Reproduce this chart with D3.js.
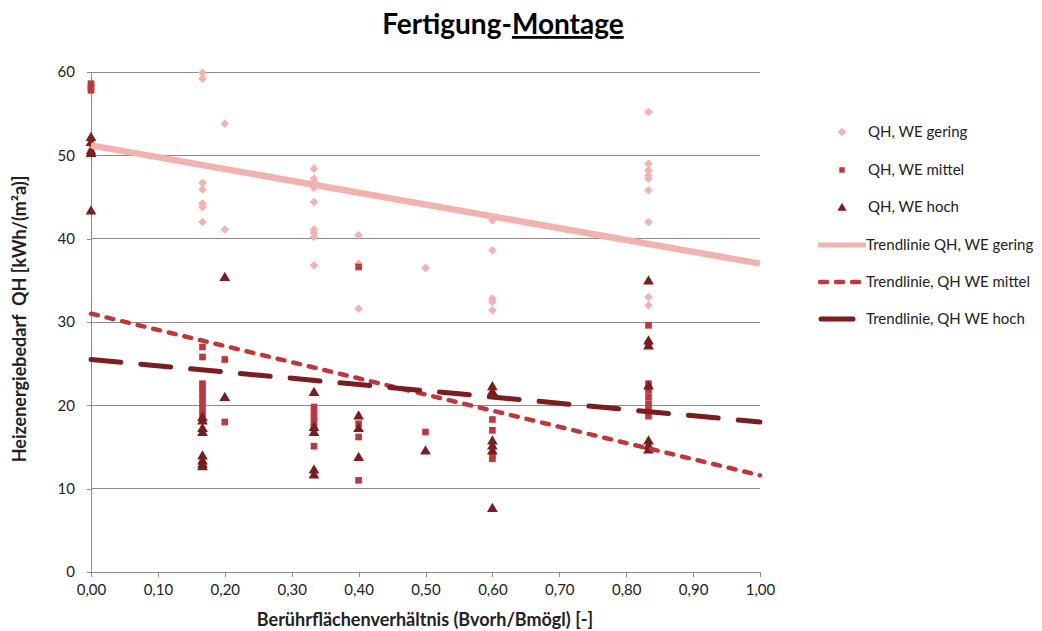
<!DOCTYPE html>
<html>
<head>
<meta charset="utf-8">
<script src="https://cdn.jsdelivr.net/npm/d3@7"></script>
<style>
  html, body { margin: 0; padding: 0; background: #fff; }
  svg { display: block; font-family: Lato, "Open Sans", sans-serif; }
</style>
</head>
<body>
<svg id="chart" width="1042" height="631"></svg>
<script>
// Heating demand per contact-surface ratio, three thermal-storage classes
const geringPoints = [
  [0, 51.2], [0, 50.6],
  [1/6, 59.9], [1/6, 59.2], [1/6, 46.7], [1/6, 45.9], [1/6, 44.2], [1/6, 43.8], [1/6, 42.0],
  [0.2, 53.8], [0.2, 41.1],
  [1/3, 48.4], [1/3, 47.2], [1/3, 46.8], [1/3, 46.4], [1/3, 46.1], [1/3, 44.4], [1/3, 41.1], [1/3, 40.7], [1/3, 40.2], [1/3, 36.8],
  [0.4, 40.4], [0.4, 37.0], [0.4, 31.6],
  [0.5, 36.5],
  [0.6, 42.2], [0.6, 38.6], [0.6, 32.8], [0.6, 32.4], [0.6, 31.4],
  [5/6, 55.2], [5/6, 49.0], [5/6, 48.2], [5/6, 47.6], [5/6, 47.2], [5/6, 45.8], [5/6, 42.0], [5/6, 33.0], [5/6, 32.0]
];
const mittelPoints = [
  [0, 58.6], [0, 58.2], [0, 57.8],
  [1/6, 27.0], [1/6, 25.8], [1/6, 22.6], [1/6, 22.0], [1/6, 21.4], [1/6, 20.8], [1/6, 20.2], [1/6, 19.5], [1/6, 19.0],
  [0.2, 25.5], [0.2, 18.0],
  [1/3, 19.8], [1/3, 19.2], [1/3, 18.6], [1/3, 18.0], [1/3, 17.4], [1/3, 15.1],
  [0.4, 36.6], [0.4, 17.8], [0.4, 16.2], [0.4, 11.0],
  [0.5, 16.8],
  [0.6, 18.3], [0.6, 17.0], [0.6, 14.0], [0.6, 13.6],
  [5/6, 29.6], [5/6, 27.4], [5/6, 22.6], [5/6, 21.8], [5/6, 21.0], [5/6, 20.2], [5/6, 19.5], [5/6, 18.7]
];
const hochPoints = [
  [0, 52.2], [0, 51.6], [0, 50.6], [0, 50.3], [0, 43.4],
  [1/6, 18.6], [1/6, 18.2], [1/6, 17.3], [1/6, 16.8], [1/6, 14.0], [1/6, 13.4], [1/6, 13.0], [1/6, 12.7],
  [0.2, 35.4], [0.2, 21.0],
  [1/3, 21.6], [1/3, 17.4], [1/3, 16.8], [1/3, 12.3], [1/3, 11.7],
  [0.4, 18.8], [0.4, 17.3], [0.4, 13.8],
  [0.5, 14.6],
  [0.6, 22.3], [0.6, 21.7], [0.6, 15.8], [0.6, 15.2], [0.6, 14.6], [0.6, 7.7],
  [5/6, 35.0], [5/6, 27.8], [5/6, 27.2], [5/6, 22.4], [5/6, 15.8], [5/6, 15.2], [5/6, 14.7]
];
// Linear trend lines: value at x = 0 and at x = 1
const trendGering = [[0, 51.2], [1, 37.0]];
const trendMittel = [[0, 31.0], [1, 11.6]];
const trendHoch   = [[0, 25.5], [1, 18.0]];

const xTicks = [0, 0.1, 0.2, 0.3, 0.4, 0.5, 0.6, 0.7, 0.8, 0.9, 1.0];
const yTicks = [0, 10, 20, 30, 40, 50, 60];

const legendLabels = [
  "QH, WE gering", "QH, WE mittel", "QH, WE hoch",
  "Trendlinie QH, WE gering", "Trendlinie, QH WE mittel", "Trendlinie, QH WE hoch"
];

const colGering = "#f2b3b0";
const colMittel = "#c0363a";
const colHoch = "#7a1d1f";

const svg = d3.select("#chart");
const plotLeft = 91, plotRight = 760, plotTop = 72, plotBottom = 572;

const x = d3.scaleLinear().domain([0, 1]).range([plotLeft, plotRight]);
const y = d3.scaleLinear().domain([0, 60]).range([plotBottom, plotTop]);

// Title
const title = svg.append("text")
  .attr("x", 503).attr("y", 34)
  .attr("text-anchor", "middle")
  .attr("font-size", 28).attr("font-weight", "bold").attr("fill", "#000");
title.append("tspan").text("Fertigung-");
title.append("tspan").attr("text-decoration", "underline").text("Montage");

// Gridlines
svg.append("g").selectAll("line").data(yTicks.filter(d => d > 0)).join("line")
  .attr("x1", plotLeft).attr("x2", plotRight)
  .attr("y1", d => y(d)).attr("y2", d => y(d))
  .attr("stroke", "#8c8c8c").attr("stroke-width", 1).attr("shape-rendering", "crispEdges");

// Axes
const fmt = d3.format(".2f");
const xAxis = svg.append("g").attr("transform", `translate(0,${plotBottom})`)
  .call(d3.axisBottom(x).tickValues(xTicks).tickSize(5).tickPadding(7)
    .tickFormat(d => fmt(d).replace(".", ",")));
const yAxis = svg.append("g").attr("transform", `translate(${plotLeft},0)`)
  .call(d3.axisLeft(y).tickValues(yTicks).tickSize(4).tickPadding(12));
[xAxis, yAxis].forEach(g => {
  g.select(".domain").attr("stroke", "#8c8c8c").attr("shape-rendering", "crispEdges");
  g.selectAll(".tick line").attr("stroke", "#8c8c8c").attr("shape-rendering", "crispEdges");
  g.selectAll(".tick text").attr("font-size", 15).attr("fill", "#222")
    .attr("font-family", "Lato, 'Open Sans', sans-serif");
});
yAxis.select(".domain").attr("d", `M0,${plotBottom}V${plotTop}`);

// Axis titles
svg.append("text").attr("x", 425).attr("y", 626).attr("text-anchor", "middle")
  .attr("font-size", 18).attr("font-weight", "bold").attr("fill", "#222")
  .text("Berührflächenverhältnis (Bvorh/Bmögl) [-]");
svg.append("text").attr("transform", "translate(26,319) rotate(-90)")
  .attr("text-anchor", "middle").attr("font-size", 18).attr("font-weight", "bold").attr("fill", "#222")
  .attr("xml:space", "preserve")
  .text("Heizenergiebedarf  QH [kWh/(m²a)]");

// Markers
const diamond = d3.symbol().type(d3.symbolSquare).size(38)();
const square = d3.symbol().type(d3.symbolSquare).size(44)();
const triangle = d3.symbol().type(d3.symbolTriangle).size(50)();

svg.append("g").selectAll("path").data(geringPoints).join("path")
  .attr("d", diamond).attr("fill", colGering)
  .attr("transform", d => `translate(${x(d[0])},${y(d[1])}) rotate(45)`);
svg.append("g").selectAll("path").data(mittelPoints).join("path")
  .attr("d", square).attr("fill", colMittel)
  .attr("transform", d => `translate(${x(d[0])},${y(d[1])})`);
svg.append("g").selectAll("path").data(hochPoints).join("path")
  .attr("d", triangle).attr("fill", colHoch)
  .attr("transform", d => `translate(${x(d[0])},${y(d[1]) + 1})`);

// Trend lines
const line = d3.line().x(d => x(d[0])).y(d => y(d[1]));
svg.append("path").datum(trendGering).attr("d", line)
  .attr("fill", "none").attr("stroke", colGering).attr("stroke-width", 6.5);
svg.append("path").datum(trendMittel).attr("d", line)
  .attr("fill", "none").attr("stroke", colMittel).attr("stroke-width", 4.5)
  .attr("stroke-dasharray", "7,9").attr("stroke-linecap", "round");
svg.append("path").datum(trendHoch).attr("d", line)
  .attr("fill", "none").attr("stroke", colHoch).attr("stroke-width", 5)
  .attr("stroke-dasharray", "30,20").attr("stroke-linecap", "round");

// Legend
const lg = svg.append("g");
const rowY = [132, 170, 207, 245, 282, 319];
lg.selectAll("text").data(legendLabels).join("text")
  .attr("x", (d, i) => i < 3 ? 868 : 866).attr("y", (d, i) => rowY[i] + 5)
  .attr("font-size", 15).attr("fill", "#222").text(d => d);
lg.append("path").attr("d", diamond).attr("fill", colGering)
  .attr("transform", `translate(842,${rowY[0]}) rotate(45)`);
lg.append("path").attr("d", d3.symbol().type(d3.symbolSquare).size(30)()).attr("fill", colMittel)
  .attr("transform", `translate(842,${rowY[1]})`);
lg.append("path").attr("d", d3.symbol().type(d3.symbolTriangle).size(36)()).attr("fill", colHoch)
  .attr("transform", `translate(842,${rowY[2] + 1})`);
lg.append("line").attr("x1", 818).attr("x2", 866).attr("y1", rowY[3]).attr("y2", rowY[3])
  .attr("stroke", colGering).attr("stroke-width", 5);
lg.append("line").attr("x1", 820).attr("x2", 866).attr("y1", rowY[4]).attr("y2", rowY[4])
  .attr("stroke", colMittel).attr("stroke-width", 4.5)
  .attr("stroke-dasharray", "7,9").attr("stroke-linecap", "round");
lg.append("line").attr("x1", 821).attr("x2", 853).attr("y1", rowY[5]).attr("y2", rowY[5])
  .attr("stroke", colHoch).attr("stroke-width", 5).attr("stroke-linecap", "round");
</script>
</body>
</html>
